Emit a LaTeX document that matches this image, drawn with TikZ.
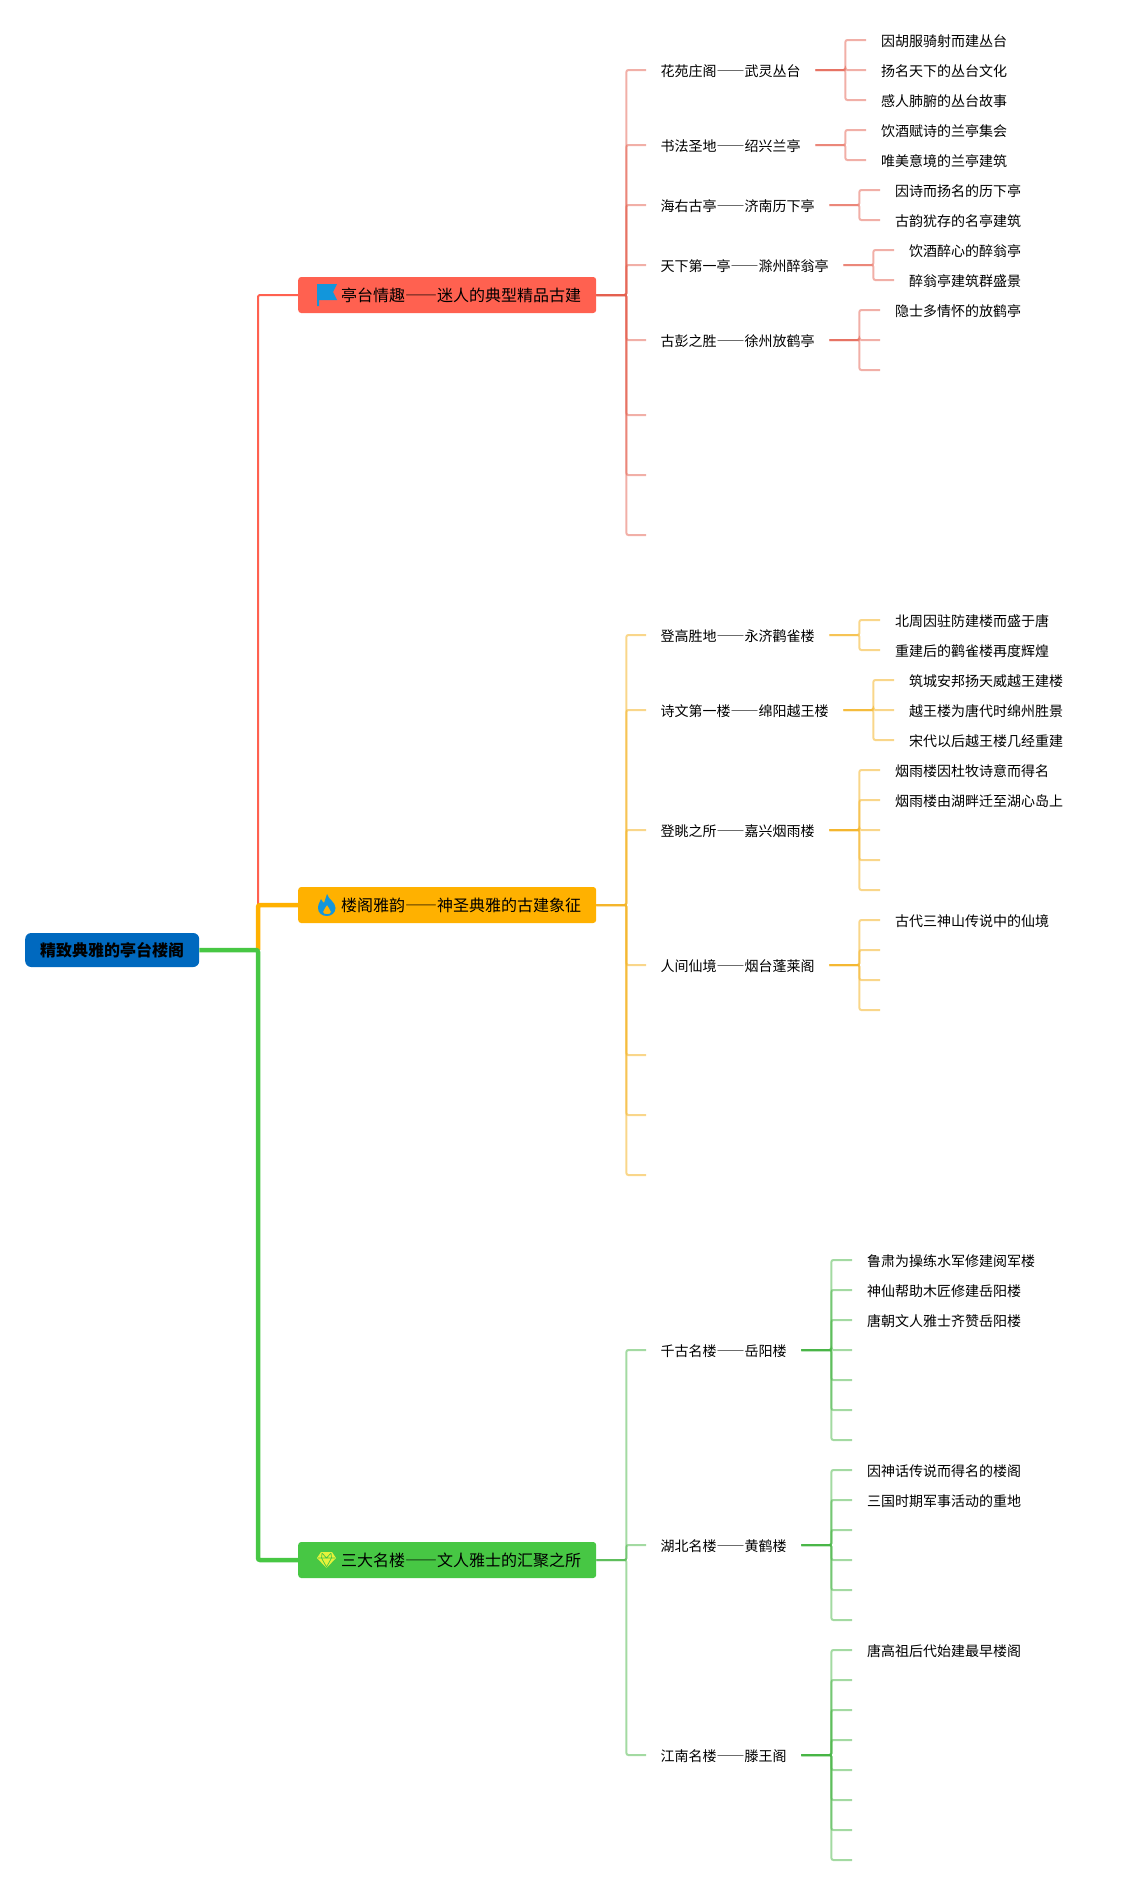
\documentclass[tikz,border=0pt]{standalone}
\usepackage{fontspec}
\setmainfont{Noto Sans CJK SC}[RawFeature=+fwid]
\definecolor{rootblue}{HTML}{0069BF}
\definecolor{iconblue}{HTML}{1296DB}
\definecolor{iconyellow}{HTML}{E6F23C}
\definecolor{boxred}{HTML}{FF6150}
\definecolor{boxorange}{HTML}{FFB100}
\definecolor{boxgreen}{HTML}{47C744}
\definecolor{linered}{HTML}{E4604F}
\definecolor{lineorange}{HTML}{F4B52A}
\definecolor{linegreen}{HTML}{48B546}
\tikzset{
  rootbox/.style={anchor=west,fill=rootblue,rounded corners=6pt,inner xsep=15pt,inner ysep=0pt,
    minimum height=34pt,font=\fontsize{16pt}{18pt}\selectfont\bfseries,text height=14pt,text depth=1pt},
  branchbox/.style={anchor=west,rounded corners=3pt,inner xsep=15pt,inner ysep=0pt,
    minimum height=36pt,font=\fontsize{16pt}{18pt}\selectfont,text height=14pt,text depth=.4pt},
  secnode/.style={anchor=west,inner xsep=14.5pt,inner ysep=0pt,
    font=\fontsize{14pt}{16pt}\selectfont,text height=13pt,text depth=.4pt},
  leafnode/.style={anchor=west,inner xsep=15pt,inner ysep=0pt,
    font=\fontsize{14pt}{16pt}\selectfont,text height=13pt,text depth=.4pt},
  edgeA/.style={draw=linered,line width=2pt,opacity=.5,rounded corners=2pt},
  edgeB/.style={draw=lineorange,line width=2pt,opacity=.55,rounded corners=2pt},
  edgeC/.style={draw=linegreen,line width=2pt,opacity=.5,rounded corners=2pt},
}
\begin{document}
\begin{tikzpicture}[x=1pt,y=1pt]
  \useasboundingbox (0,0) rectangle (1123,-1885);

  \node[rootbox] (root) at (25,-950) {精致典雅的亭台楼阁};
  \node[branchbox,fill=boxred] (bA) at (298,-295) {\hspace*{28pt}亭台情趣——迷人的典型精品古建};
  \node[branchbox,fill=boxorange] (bB) at (298,-905) {\hspace*{28pt}楼阁雅韵——神圣典雅的古建象征};
  \node[branchbox,fill=boxgreen] (bC) at (298,-1560) {\hspace*{28pt}三大名楼——文人雅士的汇聚之所};
  \coordinate (hub) at (258,-950);

  % first level
  \draw[boxred,line width=2pt,rounded corners=2pt] (hub) |- (bA.west);
  \draw[boxorange,line width=4.5pt,rounded corners=2pt] (hub) |- (bB.west);
  \draw[boxgreen,line width=4.5pt,rounded corners=2pt] (root.east) -- (hub) |- (bC.west);

  % icons
  \fill[iconblue] (317,-284) -- (337,-284) -- (333,-292) -- (337,-300) -- (319,-300) -- (319,-306) -- (317,-306) -- cycle;
  \fill[iconblue,even odd rule] (327,-894) .. controls (328,-899) and (335.5,-902) .. (335.5,-908)
    .. controls (335.5,-913) and (331,-916) .. (327,-916) .. controls (322,-916) and (318,-913) .. (318,-908)
    .. controls (318,-904) and (320,-902) .. (321,-899) .. controls (322,-901) and (323,-902) .. (324,-903)
    .. controls (325,-900) and (326,-897) .. (327,-894) -- cycle
    (327,-905) .. controls (328,-908) and (331,-909) .. (331,-912) .. controls (331,-915) and (323,-915) .. (323,-912)
    .. controls (323,-909) and (326,-908) .. (327,-905) -- cycle;
  \fill[iconyellow] (321,-1552) -- (332,-1552) -- (336,-1558) -- (326.5,-1568) -- (317,-1558) -- cycle;
  \draw[boxgreen,line width=.7pt] (318,-1558) -- (335,-1558) (322,-1553) -- (321.5,-1558) -- (326.5,-1567) -- (331.5,-1558) -- (331,-1553)
    (322,-1553) -- (326.5,-1558) -- (331,-1553);

  % second level
  \node[secnode] (secA1) at (646,-70) {花苑庄阁——武灵丛台};
  \node[secnode] (secA2) at (646,-145) {书法圣地——绍兴兰亭};
  \node[secnode] (secA3) at (646,-205) {海右古亭——济南历下亭};
  \node[secnode] (secA4) at (646,-265) {天下第一亭——滁州醉翁亭};
  \node[secnode] (secA5) at (646,-340) {古彭之胜——徐州放鹤亭};
  \coordinate (secA6) at (646,-415);
  \coordinate (secA7) at (646,-475);
  \coordinate (secA8) at (646,-535);

  \node[secnode] (secB1) at (646,-635) {登高胜地——永济鹳雀楼};
  \node[secnode] (secB2) at (646,-710) {诗文第一楼——绵阳越王楼};
  \node[secnode] (secB3) at (646,-830) {登眺之所——嘉兴烟雨楼};
  \node[secnode] (secB4) at (646,-965) {人间仙境——烟台蓬莱阁};
  \coordinate (secB5) at (646,-1055);
  \coordinate (secB6) at (646,-1115);
  \coordinate (secB7) at (646,-1175);

  \node[secnode] (secC1) at (646,-1350) {千古名楼——岳阳楼};
  \node[secnode] (secC2) at (646,-1545) {湖北名楼——黄鹤楼};
  \node[secnode] (secC3) at (646,-1755) {江南名楼——滕王阁};

  % third level, the ones with text
  \node[leafnode] (leafA11) at (866,-40) {因胡服骑射而建丛台};
  \node[leafnode] (leafA12) at (866,-70) {扬名天下的丛台文化};
  \node[leafnode] (leafA13) at (866,-100) {感人肺腑的丛台故事};
  \node[leafnode] (leafA21) at (866,-130) {饮酒赋诗的兰亭集会};
  \node[leafnode] (leafA22) at (866,-160) {唯美意境的兰亭建筑};
  \node[leafnode] (leafA31) at (880,-190) {因诗而扬名的历下亭};
  \node[leafnode] (leafA32) at (880,-220) {古韵犹存的名亭建筑};
  \node[leafnode] (leafA41) at (894,-250) {饮酒醉心的醉翁亭};
  \node[leafnode] (leafA42) at (894,-280) {醉翁亭建筑群盛景};
  \node[leafnode] (leafA51) at (880,-310) {隐士多情怀的放鹤亭};
  \coordinate (leafA52) at (880,-340);
  \coordinate (leafA53) at (880,-370);

  \node[leafnode] (leafB11) at (880,-620) {北周因驻防建楼而盛于唐};
  \node[leafnode] (leafB12) at (880,-650) {重建后的鹳雀楼再度辉煌};
  \node[leafnode] (leafB21) at (894,-680) {筑城安邦扬天威越王建楼};
  \node[leafnode] (leafB22) at (894,-710) {越王楼为唐代时绵州胜景};
  \node[leafnode] (leafB23) at (894,-740) {宋代以后越王楼几经重建};
  \node[leafnode] (leafB31) at (880,-770) {烟雨楼因杜牧诗意而得名};
  \node[leafnode] (leafB32) at (880,-800) {烟雨楼由湖畔迁至湖心岛上};
  \coordinate (leafB33) at (880,-830);
  \coordinate (leafB34) at (880,-860);
  \coordinate (leafB35) at (880,-890);
  \node[leafnode] (leafB41) at (880,-920) {古代三神山传说中的仙境};
  \coordinate (leafB42) at (880,-950);
  \coordinate (leafB43) at (880,-980);
  \coordinate (leafB44) at (880,-1010);

  \node[leafnode] (leafC11) at (852,-1260) {鲁肃为操练水军修建阅军楼};
  \node[leafnode] (leafC12) at (852,-1290) {神仙帮助木匠修建岳阳楼};
  \node[leafnode] (leafC13) at (852,-1320) {唐朝文人雅士齐赞岳阳楼};
  \coordinate (leafC14) at (852,-1350);
  \coordinate (leafC15) at (852,-1380);
  \coordinate (leafC16) at (852,-1410);
  \coordinate (leafC17) at (852,-1440);
  \node[leafnode] (leafC21) at (852,-1470) {因神话传说而得名的楼阁};
  \node[leafnode] (leafC22) at (852,-1500) {三国时期军事活动的重地};
  \coordinate (leafC23) at (852,-1530);
  \coordinate (leafC24) at (852,-1560);
  \coordinate (leafC25) at (852,-1590);
  \coordinate (leafC26) at (852,-1620);
  \node[leafnode] (leafC31) at (852,-1650) {唐高祖后代始建最早楼阁};
  \coordinate (leafC32) at (852,-1680);
  \coordinate (leafC33) at (852,-1710);
  \coordinate (leafC34) at (852,-1740);
  \coordinate (leafC35) at (852,-1770);
  \coordinate (leafC36) at (852,-1800);
  \coordinate (leafC37) at (852,-1830);
  \coordinate (leafC38) at (852,-1860);

  % connectors
  \foreach \c in {secA1.west,secA2.west,secA3.west,secA4.west,secA5.west,secA6,secA7,secA8}
    \draw[edgeA] (bA.east) -- ++(30,0) |- (\c);
  \foreach \c in {leafA11.west,leafA12.west,leafA13.west}
    \draw[edgeA] (secA1.east) -- ++(30,0) |- (\c);
  \foreach \c in {leafA21.west,leafA22.west}
    \draw[edgeA] (secA2.east) -- ++(30,0) |- (\c);
  \foreach \c in {leafA31.west,leafA32.west}
    \draw[edgeA] (secA3.east) -- ++(30,0) |- (\c);
  \foreach \c in {leafA41.west,leafA42.west}
    \draw[edgeA] (secA4.east) -- ++(30,0) |- (\c);
  \foreach \c in {leafA51.west,leafA52,leafA53}
    \draw[edgeA] (secA5.east) -- ++(30,0) |- (\c);

  \foreach \c in {secB1.west,secB2.west,secB3.west,secB4.west,secB5,secB6,secB7}
    \draw[edgeB] (bB.east) -- ++(30,0) |- (\c);
  \foreach \c in {leafB11.west,leafB12.west}
    \draw[edgeB] (secB1.east) -- ++(30,0) |- (\c);
  \foreach \c in {leafB21.west,leafB22.west,leafB23.west}
    \draw[edgeB] (secB2.east) -- ++(30,0) |- (\c);
  \foreach \c in {leafB31.west,leafB32.west,leafB33,leafB34,leafB35}
    \draw[edgeB] (secB3.east) -- ++(30,0) |- (\c);
  \foreach \c in {leafB41.west,leafB42,leafB43,leafB44}
    \draw[edgeB] (secB4.east) -- ++(30,0) |- (\c);

  \foreach \c in {secC1.west,secC2.west,secC3.west}
    \draw[edgeC] (bC.east) -- ++(30,0) |- (\c);
  \foreach \c in {leafC11.west,leafC12.west,leafC13.west,leafC14,leafC15,leafC16,leafC17}
    \draw[edgeC] (secC1.east) -- ++(30,0) |- (\c);
  \foreach \c in {leafC21.west,leafC22.west,leafC23,leafC24,leafC25,leafC26}
    \draw[edgeC] (secC2.east) -- ++(30,0) |- (\c);
  \foreach \c in {leafC31.west,leafC32,leafC33,leafC34,leafC35,leafC36,leafC37,leafC38}
    \draw[edgeC] (secC3.east) -- ++(30,0) |- (\c);
\end{tikzpicture}
\end{document}
